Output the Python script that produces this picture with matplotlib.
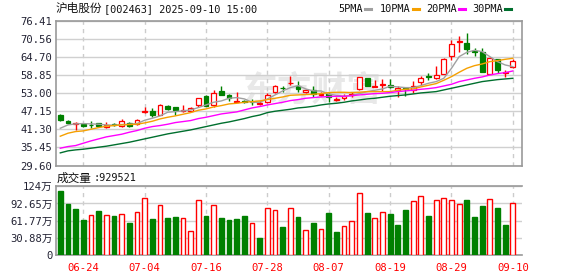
import numpy as np
import matplotlib.pyplot as plt
from matplotlib.lines import Line2D

plt.rcParams['font.family'] = ['DejaVu Sans Mono', 'Noto Sans CJK SC']

# trading days shown (2025)
dates = ['06-19', '06-20', '06-23', '06-24', '06-25', '06-26', '06-27', '06-30',
         '07-01', '07-02', '07-03', '07-04', '07-07', '07-08', '07-09', '07-10',
         '07-11', '07-14', '07-15', '07-16', '07-17', '07-18', '07-21', '07-22',
         '07-23', '07-24', '07-25', '07-28', '07-29', '07-30', '07-31', '08-01',
         '08-04', '08-05', '08-06', '08-07', '08-08', '08-11', '08-12', '08-13',
         '08-14', '08-15', '08-18', '08-19', '08-20', '08-21', '08-22', '08-25',
         '08-26', '08-27', '08-28', '08-29', '09-01', '09-02', '09-03', '09-04',
         '09-05', '09-08', '09-09', '09-10']

opens = [45.8, 44.0, 42.9, 43.0, 42.8, 43.4, 42.1, 43.1, 42.3, 43.4,
         43.0, 46.8, 47.4, 46.0, 48.9, 48.5, 47.2, 47.4, 49.2, 52.1,
         49.1, 53.8, 52.3, 50.3, 50.4, 50.3, 49.4, 50.1, 53.3, 54.8,
         56.2, 55.4, 53.3, 54.2, 52.3, 52.7, 50.9, 51.4, 52.5, 54.4,
         57.9, 55.1, 55.6, 55.8, 53.9, 54.7, 53.9, 56.6, 58.5, 57.9,
         59.4, 65.0, 69.6, 69.3, 66.8, 66.5, 59.2, 64.1, 59.5, 61.4]
highs = [46.2, 44.4, 43.6, 43.3, 43.9, 43.5, 43.7, 43.4, 44.6, 43.6,
         44.7, 48.7, 48.2, 49.4, 49.2, 48.5, 49.2, 48.5, 51.4, 52.5,
         53.9, 55.3, 52.7, 53.4, 50.9, 51.0, 50.5, 53.2, 55.7, 55.3,
         58.5, 56.9, 54.4, 55.3, 53.3, 53.1, 51.8, 52.9, 53.3, 58.4,
         57.9, 57.2, 57.5, 57.6, 55.2, 55.0, 56.9, 58.6, 59.6, 61.8,
         64.3, 70.3, 71.6, 72.5, 67.8, 67.6, 64.9, 64.1, 60.5, 64.0]
lows = [44.05, 43.1, 41.2, 42.0, 41.7, 42.0, 41.7, 42.5, 42.1, 42.1,
        42.8, 46.75, 45.2, 45.8, 47.7, 46.1, 47.0, 47.2, 48.7, 48.9,
        48.7, 52.3, 50.5, 50.2, 49.8, 49.1, 49.3, 49.9, 53.2, 53.5,
        55.7, 53.3, 53.0, 51.9, 52.2, 50.3, 50.6, 50.9, 51.7, 54.2,
        55.3, 54.9, 53.8, 54.8, 51.7, 52.1, 53.1, 55.7, 57.3, 57.7,
        59.2, 63.8, 66.5, 65.6, 65.0, 59.8, 59.2, 59.5, 58.4, 61.3]
closes = [44.5, 43.5, 43.3, 42.3, 42.6, 42.4, 42.7, 42.8, 43.9, 42.5,
          44.3, 47.2, 45.9, 49.1, 48.0, 47.5, 47.5, 48.1, 51.4, 48.9,
          53.1, 52.3, 51.6, 50.5, 50.2, 50.1, 49.7, 52.5, 55.4, 54.6,
          56.4, 54.3, 54.1, 52.7, 52.9, 51.8, 51.1, 52.1, 52.9, 58.2,
          55.3, 55.5, 55.9, 54.9, 54.8, 54.5, 55.4, 58.0, 58.2, 58.9,
          64.0, 68.9, 70.0, 67.5, 66.5, 59.8, 64.3, 60.5, 59.8, 63.5]

ma5 = [41.67, 42.75, 43.08, 43.18, 43.08, 42.97, 42.75, 42.65, 42.86, 42.97,
       43.18, 44.26, 44.91, 45.67, 46.85, 47.07, 47.28, 47.61, 48.36, 49.22,
       50.09, 50.52, 51.38, 51.60, 51.17, 50.09, 50.09, 51.17, 52.46, 53.76,
       54.83, 55.48, 54.40, 53.76, 53.76, 52.68, 52.35, 52.03, 52.25, 52.89,
       53.54, 53.97, 54.40, 55.27, 55.05, 54.83, 54.83, 55.48, 56.24, 56.78,
       57.85, 61.09, 64.87, 66.27, 66.92, 66.48, 64.87, 63.25, 62.17, 61.63]
ma10 = [39.09, 40.06, 40.60, 40.81, 41.35, 41.89, 42.32, 42.54, 42.75, 42.86,
        42.97, 43.40, 43.94, 44.69, 45.23, 45.67, 46.20, 46.74, 47.50, 47.93,
        48.58, 49.01, 49.55, 49.76, 50.09, 50.30, 50.52, 50.95, 51.38, 51.81,
        52.35, 52.46, 52.57, 52.68, 52.89, 53.22, 53.32, 53.32, 53.22, 53.32,
        53.54, 53.54, 53.54, 53.54, 53.97, 54.29, 54.40, 55.05, 55.59, 56.13,
        57.21, 58.39, 59.80, 61.09, 61.95, 62.49, 63.25, 63.57, 64.00, 64.33]
ma20 = [35.20, 35.74, 36.06, 36.82, 37.57, 38.22, 38.87, 39.30, 39.73, 40.38,
        40.92, 41.67, 42.21, 42.54, 42.97, 43.51, 43.83, 44.16, 44.80, 45.23,
        45.77, 46.31, 46.64, 46.96, 47.61, 48.25, 48.69, 49.22, 49.66, 50.09,
        50.63, 50.95, 51.38, 51.60, 51.81, 51.92, 52.03, 52.03, 52.25, 52.46,
        52.68, 52.89, 53.00, 53.22, 53.54, 53.76, 53.97, 54.29, 54.51, 54.83,
        55.37, 55.91, 56.78, 57.31, 57.85, 58.29, 58.93, 59.36, 59.69, 60.23]
ma30 = [33.69, 34.34, 34.66, 34.88, 35.20, 35.53, 35.85, 36.28, 36.71, 37.14,
        37.68, 38.22, 38.76, 39.30, 39.84, 40.27, 40.70, 41.13, 41.67, 42.21,
        42.75, 43.29, 43.72, 44.26, 44.80, 45.45, 45.95, 46.74, 47.18, 47.50,
        47.82, 48.25, 48.47, 48.79, 49.22, 49.55, 49.76, 50.09, 50.52, 50.84,
        51.17, 51.38, 51.71, 52.03, 52.25, 52.46, 52.78, 53.11, 53.32, 53.54,
        54.08, 54.62, 55.16, 55.70, 56.24, 56.78, 57.10, 57.42, 57.64, 57.85]

# volume in units of 10k shares (万)
volume = [115.7, 92.2, 83.2, 63.3, 72.3, 79.5, 72.3, 70.5, 74.1, 57.9,
          77.7, 102.4, 65.1, 90.4, 66.9, 68.7, 66.3, 43.4, 99.4, 70.8,
          89.8, 66.9, 63.3, 65.1, 70.5, 57.2, 30.7, 84.4, 80.7, 50.6,
          84.4, 68.7, 44.6, 57.9, 46.4, 75.9, 41.6, 51.8, 60.9, 111.5,
          75.9, 66.3, 77.1, 74.1, 54.2, 81.4, 97.0, 106.7, 70.5, 98.8,
          102.4, 98.8, 91.6, 99.4, 68.7, 88.6, 100.6, 85.0, 54.2, 92.95]
# R = up day (red), G = down day (green)
vol_dir = list('GGGGRGRGRGRRGRGGRRRGRGGGGRGRRGRGRGRGGRRRGRRGGGRRGRRRRGGGRGGR')

price_ticks = [29.60, 35.45, 41.30, 47.15, 53.00, 58.85, 64.70, 70.56, 76.41]
vol_ticks = [0, 30.88, 61.77, 92.65, 123.53]
vol_labels = ['0', '30.88万', '61.77万', '92.65万', '124万']

RED = '#ff0000'
GREEN = '#008000'
SPINE = '#999999'
TXT = '#222233'

o = np.array(opens); h = np.array(highs); l = np.array(lows); c = np.array(closes)
x = np.arange(len(dates))
up = c >= o

W, H = 578, 276
def rect(left, top, right, bottom):
    return [left / W, 1 - bottom / H, (right - left) / W, (bottom - top) / H]

fig = plt.figure(figsize=(W / 100, H / 100), dpi=100)
ax = fig.add_axes(rect(56, 21, 522.3, 165.5))
axv = fig.add_axes(rect(56, 186.3, 522.3, 255))

label_pos = x[3::8]

# ---- price panel ----
ax.text(0.55, 0.52, '东方财富', transform=ax.transAxes, ha='center', va='center',
        fontsize=25, fontweight='bold', color='#e8e8e8', zorder=0.5,
        family='Noto Sans CJK SC')

body_lo = np.minimum(o, c)
body_h = np.maximum(np.abs(c - o), 0.12)
ax.vlines(x, l, h, colors=np.where(up, RED, GREEN), lw=1, zorder=3)
ax.bar(x[up], body_h[up], 0.62, bottom=body_lo[up], facecolor='white',
       edgecolor=RED, lw=0.9, zorder=4)
ax.bar(x[~up], body_h[~up], 0.62, bottom=body_lo[~up], facecolor=GREEN,
       edgecolor=GREEN, lw=0.9, zorder=4)

ax.plot(x, ma5, color='#a0a0a0', lw=1, zorder=5)
ax.plot(x, ma10, color='#f5a000', lw=1, zorder=5)
ax.plot(x, ma20, color='#ff00ff', lw=1, zorder=5)
ax.plot(x, ma30, color='#006f2e', lw=1, zorder=5)

ax.set_xlim(-0.56, 60.23)
ax.set_ylim(29.60, 76.41)
ax.set_yticks(price_ticks)
ax.set_yticklabels(['%.2f' % t for t in price_ticks])
ax.set_xticks(label_pos)
ax.tick_params(axis='x', labelbottom=False, length=0)
ax.tick_params(axis='y', length=0, pad=2.5, labelsize=7.6, labelcolor=TXT)
ax.yaxis.grid(True, color='#d0d0d0', lw=1, zorder=1)
ax.xaxis.grid(True, color='#cccccc', lw=1, ls=(0, (3, 3)), zorder=1)
for s in ax.spines.values():
    s.set_color(SPINE)
    s.set_linewidth(1.2)

# ---- volume panel ----
vcol = [RED if d == 'R' else GREEN for d in vol_dir]
vup = np.array([d == 'R' for d in vol_dir])
vol = np.array(volume)
axv.bar(x[vup], vol[vup], 0.62, facecolor='white', edgecolor=RED, lw=1, zorder=3)
axv.bar(x[~vup], vol[~vup], 0.62, facecolor=GREEN, edgecolor=GREEN, lw=1, zorder=3)
axv.set_xlim(-0.56, 60.23)
axv.set_ylim(0, 123.53)
axv.set_yticks(vol_ticks)
axv.set_yticklabels(vol_labels)
axv.set_xticks(label_pos)
axv.set_xticklabels([dates[i] for i in label_pos])
axv.tick_params(axis='x', length=0, pad=6, labelsize=7.6, labelcolor=RED)
axv.tick_params(axis='y', length=0, pad=2.5, labelsize=7.6, labelcolor=TXT)
axv.yaxis.grid(True, color='#d0d0d0', lw=1, zorder=1)
axv.xaxis.grid(True, color='#cccccc', lw=1, ls=(0, (3, 3)), zorder=1)
for name, s in axv.spines.items():
    s.set_color(SPINE)
    s.set_linewidth(1.2)
axv.spines['right'].set_visible(False)

# ---- header texts ----
def fx(px):
    return px / W
def fy(py):
    return 1 - py / H

fig.text(fx(56), fy(8.7), '沪电股份', family='Noto Sans CJK SC', fontsize=8.4,
         va='center', ha='left', color='#111111')
fig.text(fx(104), fy(8.7), '[002463] 2025-09-10 15:00', fontsize=7.4,
         va='center', ha='left', color='#111111')

legend = [('5PMA', 338, 365, '#a0a0a0'), ('10PMA', 380, 413, '#f5a000'),
          ('20PMA', 426, 459, '#ff00ff'), ('30PMA', 472, 505, '#006f2e')]
for name, tx, lx, col in legend:
    fig.text(fx(tx), fy(8.7), name, fontsize=7.4, va='center', ha='left',
             color='#111111')
    fig.add_artist(Line2D([fx(lx), fx(lx + 6)], [fy(8.7), fy(8.7)],
                          color=col, lw=2.2, transform=fig.transFigure))

fig.text(fx(57), fy(178), '成交量', family='Noto Sans CJK SC', fontsize=8.4,
         va='center', ha='left', color='#111111')
fig.text(fx(93), fy(178), ':929521', fontsize=7.4, va='center', ha='left',
         color='#111111')

fig.savefig('out.png', dpi=100)
